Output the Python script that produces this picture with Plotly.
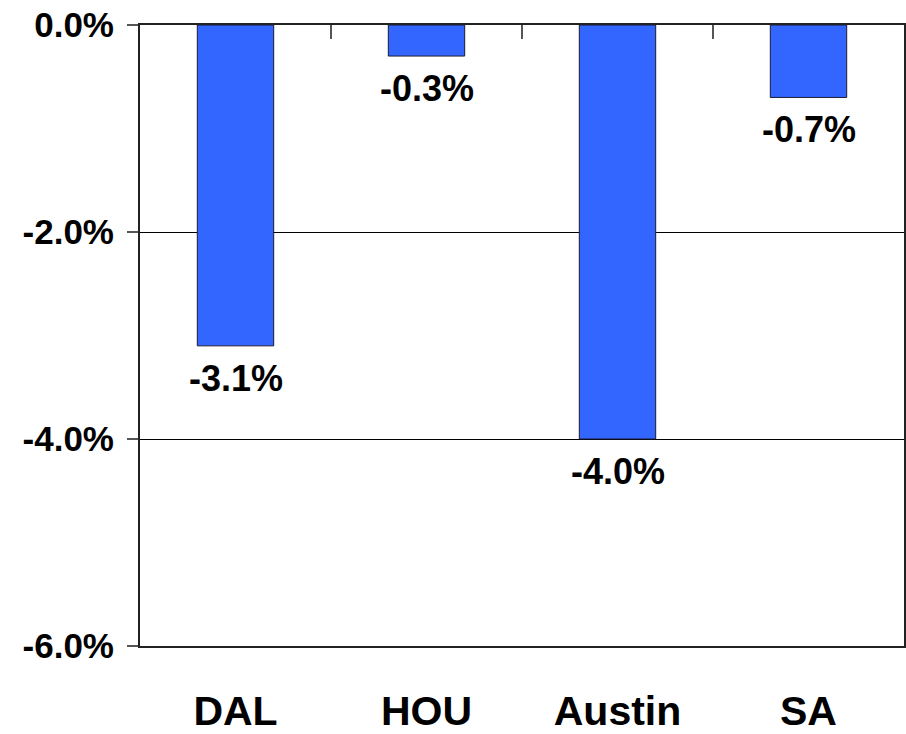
import plotly.graph_objects as go

categories = ["DAL", "HOU", "Austin", "SA"]
values = [-3.1, -0.3, -4.0, -0.7]
y_ticks = [0, -2, -4, -6]
y_tick_labels = ["0.0%", "-2.0%", "-4.0%", "-6.0%"]

FONT = "Liberation Sans, Arial, sans-serif"

fig = go.Figure()
fig.add_trace(go.Bar(
    x=categories, y=values, width=0.4,
    marker=dict(color="#3366FF", line=dict(color="#1a1a33", width=1)),
    showlegend=False, hoverinfo="skip",
))
# invisible trace on the top axis for boundary ticks
fig.add_trace(go.Bar(x=categories, y=[0]*4, xaxis="x2", showlegend=False,
                     hoverinfo="skip", marker=dict(color="rgba(0,0,0,0)")))

for c, v in zip(categories, values):
    fig.add_annotation(x=c, y=v, text=f"<b>{v:.1f}%</b>", showarrow=False,
                       yanchor="top", yshift=-10,
                       font=dict(family=FONT, size=36, color="black"))

fig.update_layout(
    template="none",
    width=906, height=734,
    margin=dict(l=140, r=2, t=25, b=88, autoexpand=False),
    paper_bgcolor="white", plot_bgcolor="white",
    bargap=0.6,
    xaxis=dict(type="category", side="bottom", showline=True, mirror=True,
               automargin=False,
               linecolor="#222", linewidth=2, ticks="", showgrid=False,
               tickfont=dict(family=FONT, size=41, color="black"),
               ticklabelstandoff=28,
               tickvals=categories, ticktext=[f"<b>{c}</b>" for c in categories]),
    xaxis2=dict(type="category", overlaying="x", side="top", matches="x",
                automargin=False,
                tickson="boundaries", ticks="inside", ticklen=14, tickwidth=2,
                tickcolor="#555", showticklabels=False, showgrid=False,
                showline=False),
    yaxis=dict(range=[-6, 0], tickvals=y_ticks, automargin=False,
               ticktext=[f"<b>{t}</b>" for t in y_tick_labels],
               showline=True, mirror=True, linecolor="#222", linewidth=2,
               ticks="outside", ticklen=11, tickwidth=2, tickcolor="#555",
               showgrid=True, gridcolor="black", gridwidth=1,
               zeroline=False,
               tickfont=dict(family=FONT, size=35, color="black"),
               ticklabelstandoff=6),
)

fig.write_html(
    "out.html",
    config={"displayModeBar": False},
    post_script="document.body.style.margin='0';"
                "document.documentElement.style.overflow='hidden';"
                "document.body.style.overflow='hidden';",
)
